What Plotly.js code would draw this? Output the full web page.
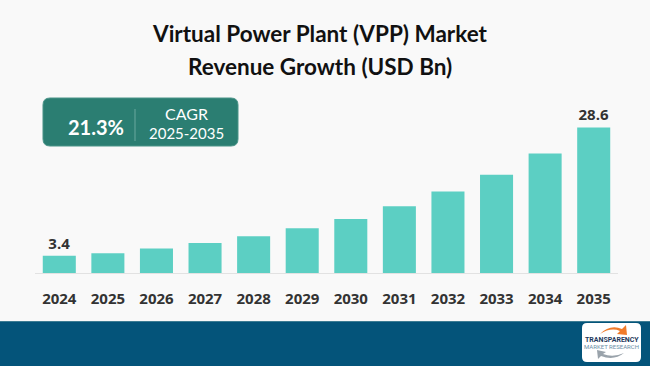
<!DOCTYPE html>
<html>
<head>
<meta charset="utf-8">
<script src="https://cdn.plot.ly/plotly-3.0.1.min.js"></script>
<style>
html,body{margin:0;padding:0;background:#f9f9f9;}
#chart{width:650px;height:366px;}
</style>
</head>
<body>
<div id="chart"></div>
<script>
// ---- data ----
const years = ["2024","2025","2026","2027","2028","2029","2030","2031","2032","2033","2034","2035"];
const revenue = [3.4, 3.9, 4.8, 5.9, 7.2, 8.8, 10.6, 13.1, 16.0, 19.3, 23.5, 28.6];
const labeledYears = ["2024","2035"];
const titleLines = ["Virtual Power Plant (VPP) Market", "Revenue Growth (USD Bn)"];
const cagrValue = "21.3%";
const cagrLabel = "CAGR";
const cagrPeriod = "2025-2035";

// ---- layout helpers (pixel -> paper) ----
const W = 650, H = 366;
const M = {l:35, r:32, t:100, b:93};
const PW = W - M.l - M.r, PH = H - M.t - M.b;
const px = X => (X - M.l) / PW;
const py = Y => (H - M.b - Y) / PH;

function roundRect(x0, y0, x1, y1, r){
  const p = (X,Y) => px(X).toFixed(5) + "," + py(Y).toFixed(5);
  return "M" + p(x0+r,y0) + " L" + p(x1-r,y0) + " Q" + p(x1,y0) + " " + p(x1,y0+r) +
         " L" + p(x1,y1-r) + " Q" + p(x1,y1) + " " + p(x1-r,y1) +
         " L" + p(x0+r,y1) + " Q" + p(x0,y1) + " " + p(x0,y1-r) +
         " L" + p(x0,y0+r) + " Q" + p(x0,y0) + " " + p(x0+r,y0) + " Z";
}

const barText = years.map((y,i) => labeledYears.includes(y) ? revenue[i].toFixed(1) : "");

const trace = {
  type: "bar",
  x: years,
  y: revenue,
  marker: {color: "#5ccfc3"},
  text: barText,
  textposition: "outside",
  cliponaxis: false,
  constraintext: "none",
  textfont: {family: "Open Sans", size: 15, color: "#333333", weight: 700},
  hoverinfo: "skip"
};

const layout = {
  width: W, height: H,
  margin: M,
  paper_bgcolor: "#f9f9f9",
  plot_bgcolor: "#f9f9f9",
  showlegend: false,
  bargap: 0.32,
  xaxis: {
    type: "category",
    showgrid: false,
    showline: true,
    linecolor: "#e2e2e2",
    linewidth: 1,
    ticks: "outside",
    ticklen: 12,
    tickcolor: "rgba(0,0,0,0)",
    tickfont: {family: "Open Sans", size: 15, color: "#333333", weight: 700},
    fixedrange: true
  },
  yaxis: {visible: false, range: [0, 34], fixedrange: true},
  shapes: [
    {type:"rect", xref:"paper", yref:"paper", x0:px(-5), x1:px(W+5), y0:py(321), y1:py(H+5),
     fillcolor:"#04547a", line:{width:0}, layer:"below"},
    {type:"line", xref:"paper", yref:"paper", x0:px(-5), x1:px(W+5), y0:py(321.5), y1:py(321.5),
     line:{color:"#3d7c93", width:1}},
    {type:"path", xref:"paper", yref:"paper", path: roundRect(43, 98, 238, 146, 7),
     fillcolor:"#2b7e72", line:{color:"#4a9488", width:1}},
    {type:"line", xref:"paper", yref:"paper", x0:px(135), x1:px(135), y0:py(109), y1:py(141),
     line:{color:"#6aa89e", width:1}},
    {type:"path", xref:"paper", yref:"paper", path: roundRect(582, 323, 641, 362, 5),
     fillcolor:"#ffffff", line:{width:0}},
    {type:"path", xref:"paper", yref:"paper",
     path: "M" + px(600)+","+py(334) + " Q" + px(610)+","+py(324) + " " + px(622)+","+py(329) +
           " L" + px(626)+","+py(325) + " L" + px(627)+","+py(335) + " L" + px(617)+","+py(334) +
           " L" + px(620)+","+py(331) + " Q" + px(611)+","+py(327) + " " + px(600)+","+py(334) + " Z",
     fillcolor:"#f07b2a", line:{width:0}},
    {type:"path", xref:"paper", yref:"paper",
     path: "M" + px(624)+","+py(353) + " Q" + px(614)+","+py(361) + " " + px(601)+","+py(356) +
           " L" + px(598)+","+py(359) + " L" + px(597)+","+py(350) + " L" + px(606)+","+py(352) +
           " L" + px(603)+","+py(354) + " Q" + px(613)+","+py(358) + " " + px(624)+","+py(353) + " Z",
     fillcolor:"#9aa3ab", line:{width:0}}
  ],
  annotations: [
    {text: titleLines[0], xref:"paper", yref:"paper", x:px(320), y:py(33), xanchor:"center", yanchor:"middle",
     showarrow:false, font:{family:"Lato", size:22.5, color:"#111111", weight:700}},
    {text: titleLines[1], xref:"paper", yref:"paper", x:px(320), y:py(66), xanchor:"center", yanchor:"middle",
     showarrow:false, font:{family:"Lato", size:22.5, color:"#111111", weight:700}},
    {text: cagrValue, xref:"paper", yref:"paper", x:px(96), y:py(127), xanchor:"center", yanchor:"middle",
     showarrow:false, font:{family:"Lato", size:20, color:"#ffffff", weight:700}},
    {text: cagrLabel, xref:"paper", yref:"paper", x:px(186), y:py(113), xanchor:"center", yanchor:"middle",
     showarrow:false, font:{family:"Lato", size:16, color:"#ffffff", weight:400}},
    {text: cagrPeriod, xref:"paper", yref:"paper", x:px(186), y:py(133), xanchor:"center", yanchor:"middle",
     showarrow:false, font:{family:"Lato", size:15, color:"#ffffff", weight:400}},
    {text: "TRANSPARENCY", xref:"paper", yref:"paper", x:px(611.5), y:py(340), xanchor:"center", yanchor:"middle",
     showarrow:false, font:{family:"Roboto", size:7, color:"#1f3a5c", weight:700}},
    {text: "MARKET RESEARCH", xref:"paper", yref:"paper", x:px(611.5), y:py(346.5), xanchor:"center", yanchor:"middle",
     showarrow:false, font:{family:"Roboto", size:6, color:"#6a8fa6"}}
  ]
};

Plotly.newPlot("chart", [trace], layout, {displayModeBar:false, staticPlot:true});
</script>
</body>
</html>
